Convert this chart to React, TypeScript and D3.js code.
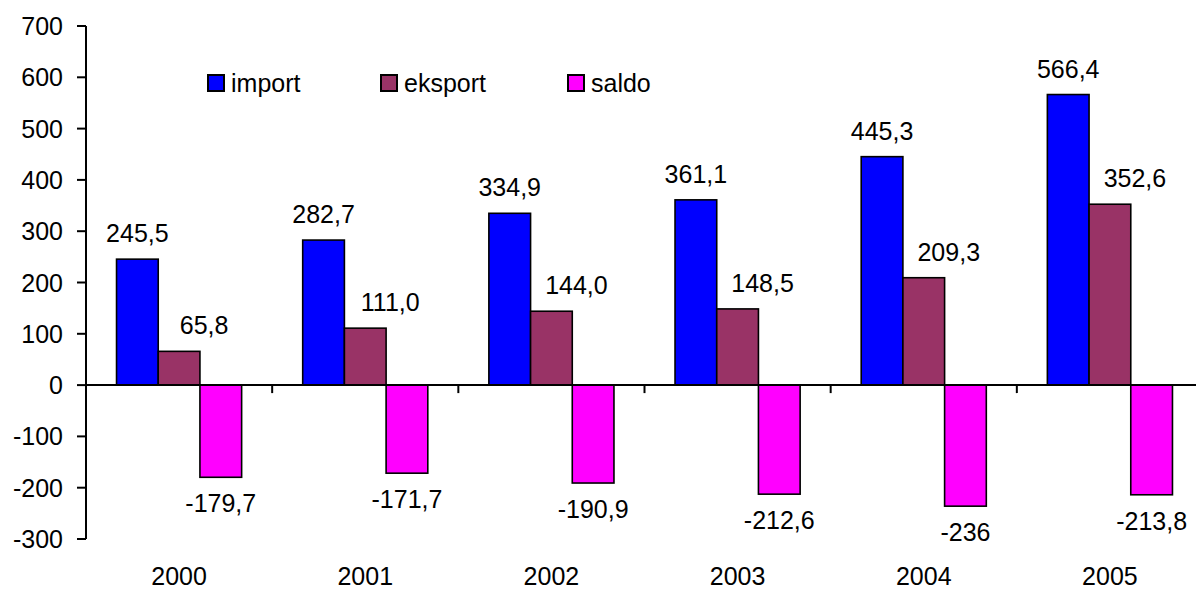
import React from "react";
import * as d3 from "d3";

const years = ["2000", "2001", "2002", "2003", "2004", "2005"];
const seriesNames = ["import", "eksport", "saldo"];
const importValues = [245.5, 282.7, 334.9, 361.1, 445.3, 566.4];
const eksportValues = [65.8, 111.0, 144.0, 148.5, 209.3, 352.6];
const saldoValues = [-179.7, -171.7, -190.9, -212.6, -236, -213.8];
const saldoLabels = ["-179,7", "-171,7", "-190,9", "-212,6", "-236", "-213,8"];
const yTicks = [-300, -200, -100, 0, 100, 200, 300, 400, 500, 600, 700];
const colors = ["#0000FF", "#993366", "#FF00FF"];

const W = 1196;
const H = 589;
const FONT = "'Liberation Sans', Arial, sans-serif";
const FS = 25;

export default function App() {
  const left = 86;
  const right = 1203;
  const top = 26;
  const bottom = 539;

  const x0 = d3.scaleBand<string>().domain(years).range([left, right]).padding(0);
  const bw = x0.bandwidth();
  const x1 = d3
    .scaleBand<string>()
    .domain(seriesNames)
    .range([bw * 0.164, bw * 0.836])
    .padding(0);
  const y = d3.scaleLinear().domain([-300, 700]).range([bottom, top]);
  const y0 = y(0);

  const fmt = (v: number) => v.toFixed(1).replace(".", ",");
  const seriesValues = [importValues, eksportValues, saldoValues];

  const bars: React.ReactNode[] = [];
  const labels: React.ReactNode[] = [];
  years.forEach((yr, i) => {
    seriesNames.forEach((s, si) => {
      const v = seriesValues[si][i];
      const bx = (x0(yr) as number) + (x1(s) as number);
      const w = x1.bandwidth();
      const yTop = Math.min(y(v), y0);
      const h = Math.abs(y(v) - y0);
      bars.push(
        <rect
          key={`b-${yr}-${s}`}
          x={bx}
          y={yTop}
          width={w}
          height={h}
          fill={colors[si]}
          stroke="#000"
          strokeWidth={1.6}
        />
      );
      const cx = bx + w / 2;
      let lx = cx;
      let ly = 0;
      let text = "";
      if (si === 0) {
        ly = y(v) - 17;
        text = fmt(v);
      } else if (si === 1) {
        lx = cx + 25;
        ly = y(v) - 17;
        text = fmt(v);
      } else {
        ly = y(v) + 35;
        text = saldoLabels[i];
      }
      labels.push(
        <text
          key={`l-${yr}-${s}`}
          x={lx}
          y={ly}
          textAnchor="middle"
          fontSize={FS}
          fontFamily={FONT}
          fill="#000"
        >
          {text}
        </text>
      );
    });
  });

  const legendItems = [
    { x: 208, name: seriesNames[0], c: colors[0] },
    { x: 381, name: seriesNames[1], c: colors[1] },
    { x: 568, name: seriesNames[2], c: colors[2] },
  ];

  return (
    <svg
      width={W}
      height={H}
      style={{ position: "absolute", left: 0, top: 0, background: "#fff" }}
    >
      <rect x={0} y={0} width={W} height={H} fill="#fff" />
      {bars}
      <line x1={left} x2={W} y1={y0} y2={y0} stroke="#000" strokeWidth={2} />
      {years.slice(1).map((yr) => (
        <line
          key={`xt-${yr}`}
          x1={x0(yr) as number}
          x2={x0(yr) as number}
          y1={y0}
          y2={y0 + 8}
          stroke="#000"
          strokeWidth={2}
        />
      ))}
      <line x1={left} x2={left} y1={top} y2={bottom} stroke="#000" strokeWidth={2} />
      {yTicks.map((t) => (
        <g key={`yt-${t}`}>
          <line x1={left - 9} x2={left} y1={y(t)} y2={y(t)} stroke="#000" strokeWidth={2} />
          <text
            x={63}
            y={y(t) + 9}
            textAnchor="end"
            fontSize={FS}
            fontFamily={FONT}
            fill="#000"
          >
            {t}
          </text>
        </g>
      ))}
      {years.map((yr) => (
        <text
          key={`xl-${yr}`}
          x={(x0(yr) as number) + bw / 2}
          y={585}
          textAnchor="middle"
          fontSize={FS}
          fontFamily={FONT}
          fill="#000"
        >
          {yr}
        </text>
      ))}
      {labels}
      {legendItems.map((it) => (
        <g key={`lg-${it.name}`}>
          <rect x={it.x} y={75} width={16} height={16} fill={it.c} stroke="#000" strokeWidth={2} />
          <text x={it.x + 23} y={92} fontSize={FS} fontFamily={FONT} fill="#000">
            {it.name}
          </text>
        </g>
      ))}
    </svg>
  );
}
